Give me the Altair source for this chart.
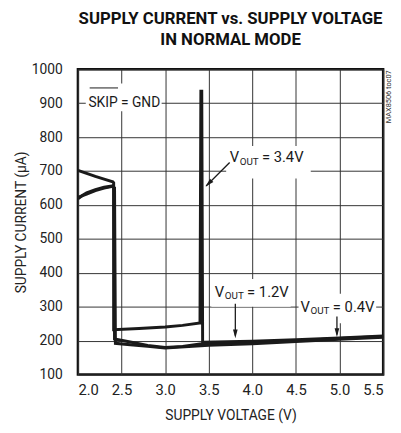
import altair as alt
import pandas as pd

# ---- data ----
x34 = [2.0, 2.1, 2.2, 2.3, 2.4, 2.41, 2.41, 2.7, 3.0, 3.2, 3.4, 3.41, 3.42, 3.43, 4.0, 4.5, 5.0, 5.5]
y34 = [702, 693, 684, 676, 668, 665, 232, 236, 240, 245, 252, 935, 935, 195, 198, 203, 208, 214]

x12 = [2.0, 2.05, 2.1, 2.2, 2.3, 2.4, 2.41, 2.42, 2.6, 2.8, 3.0, 3.2, 3.4, 3.6, 4.0, 4.5, 5.0, 5.5]
y12 = [618, 628, 636, 645, 652, 656, 652, 205, 196, 186, 180, 183, 190, 191, 194, 200, 206, 212]

x04 = [2.0, 2.1, 2.2, 2.3, 2.4, 2.42, 2.43, 2.6, 2.8, 3.0, 3.5, 4.0, 4.5, 5.0, 5.5]
y04 = [622, 632, 642, 650, 655, 650, 192, 188, 183, 178, 186, 191, 197, 204, 210]

x_ticks = [2.0, 2.5, 3.0, 3.5, 4.0, 4.5, 5.0, 5.5]
y_ticks = [100, 200, 300, 400, 500, 600, 700, 800, 900, 1000]

FONT = "Roboto"
INK = "#1a1a1a"

rows = []
for name, xs_, ys_ in [("3.4", x34, y34), ("1.2", x12, y12), ("0.4", x04, y04)]:
    for i, (a, b) in enumerate(zip(xs_, ys_)):
        rows.append({"series": name, "v": a, "i": b, "o": i})
curves = pd.DataFrame(rows)

xs = alt.Scale(domain=[2.0, 5.5], nice=False, zero=False)
ys = alt.Scale(domain=[100, 1000], nice=False, zero=False)
ax_x = alt.Axis(values=x_ticks, format=".1f", labelOverlap=False, tickCount=8)
ax_y = alt.Axis(values=y_ticks, format="d", labelOverlap=False, tickCount=10)


def X(field="v:Q"):
    return alt.X(field, scale=xs, axis=ax_x, title="SUPPLY VOLTAGE (V)")


def Y(field="i:Q"):
    return alt.Y(field, scale=ys, axis=ax_y, title="SUPPLY CURRENT (\u00b5A)")


# white label backgrounds
boxes = pd.DataFrame([
    {"v": 2.09, "v2": 2.96, "i": 876, "i2": 958},
    {"v": 3.70, "v2": 4.67, "i": 678, "i2": 774},
    {"v": 3.53, "v2": 4.44, "i": 300, "i2": 382},
    {"v": 4.53, "v2": 5.42, "i": 251, "i2": 338},
])
box_layer = alt.Chart(boxes).mark_rect(fill="white").encode(
    x=X(), x2="v2", y=Y(), y2="i2")

lines = alt.Chart(curves).mark_line(color=INK, strokeWidth=3, strokeJoin="miter").encode(
    x=X(), y=Y(), detail="series:N", order="o:Q")

# arrows
arrows = pd.DataFrame([
    {"v": 3.74, "i": 725, "v2": 3.47, "i2": 656},
    {"v": 3.805, "i": 309, "v2": 3.805, "i2": 215},
    {"v": 4.97, "i": 271, "v2": 4.97, "i2": 218},
])
arrow_lines = alt.Chart(arrows).mark_rule(color=INK, strokeWidth=1.3).encode(
    x=X(), y=Y(), x2="v2", y2="i2")
heads = pd.DataFrame([
    {"v": 3.505, "i": 665, "a": 225},
    {"v": 3.805, "i": 222, "a": 180},
    {"v": 4.97, "i": 226, "a": 180},
])
arrow_heads = alt.Chart(heads).mark_point(shape="M0,-1L0.45,0.7L-0.45,0.7Z", filled=True,
                                          color=INK, size=110, opacity=1).encode(
    x=X(), y=Y(), angle=alt.Angle("a:Q", scale=None))

# overline for SKIP
overline = alt.Chart(pd.DataFrame([{"v": 2.135, "v2": 2.46, "i": 945}])).mark_rule(
    color=INK, strokeWidth=1).encode(x=X(), x2="v2", y=Y())

skip = alt.Chart(pd.DataFrame([{"v": 2.12, "i": 900, "t": "SKIP = GND"}])).mark_text(
    align="left", baseline="middle", font=FONT, fontSize=14, color=INK).encode(
    x=X(), y=Y(), text="t:N")

big = pd.DataFrame([
    {"v": 3.74, "i": 740, "t": "V"},
    {"v": 4.11, "i": 740, "t": "= 3.4V"},
    {"v": 3.569, "i": 344, "t": "V"},
    {"v": 3.94, "i": 344, "t": "= 1.2V"},
    {"v": 4.551, "i": 300, "t": "V"},
    {"v": 4.923, "i": 300, "t": "= 0.4V"},
])
big_text = alt.Chart(big).mark_text(align="left", baseline="middle", font=FONT,
                                    fontSize=15, color=INK).encode(
    x=X(), y=Y(), text="t:N")
sub = pd.DataFrame([
    {"v": 3.855, "i": 726, "t": "OUT"},
    {"v": 3.684, "i": 330, "t": "OUT"},
    {"v": 4.666, "i": 286, "t": "OUT"},
])
sub_text = alt.Chart(sub).mark_text(align="left", baseline="middle", font=FONT,
                                    fontSize=10, color=INK).encode(
    x=X(), y=Y(), text="t:N")

side = alt.Chart(pd.DataFrame([{"v": 5.568, "i": 919, "t": "MAX8506 toc07"}])).mark_text(
    angle=270, align="center", baseline="middle", font=FONT, fontSize=7.5, color="#333").encode(
    x=X(), y=Y(), text="t:N")

chart = alt.layer(box_layer, lines, arrow_lines, arrow_heads, overline, skip, big_text, sub_text, side).properties(
    width=310, height=310,
    autosize=alt.AutoSizeParams(type="none"),
    padding={"left": 71, "top": 59, "right": 10, "bottom": 48},
    title=alt.TitleParams(["SUPPLY CURRENT vs. SUPPLY VOLTAGE", "IN NORMAL MODE"],
                          font=FONT, fontSize=17, fontWeight="bold", color="#111",
                          anchor="middle", offset=14, lineHeight=21),
).configure_view(stroke="#111", strokeWidth=2.5).configure_axis(
    domain=False, ticks=False, grid=True, gridColor="#333", gridWidth=1, gridOpacity=1,
    labelFont=FONT, labelFontSize=15, labelColor="#222", titleFont=FONT,
    titleFontSize=14, titleFontWeight="normal", titleColor="#222",
).configure_axisX(labelPadding=8, titlePadding=12).configure_axisY(
    labelPadding=16, titlePadding=3, labelFontSize=14)

chart.save("out.html", embed_options={"renderer": "svg", "actions": False})
